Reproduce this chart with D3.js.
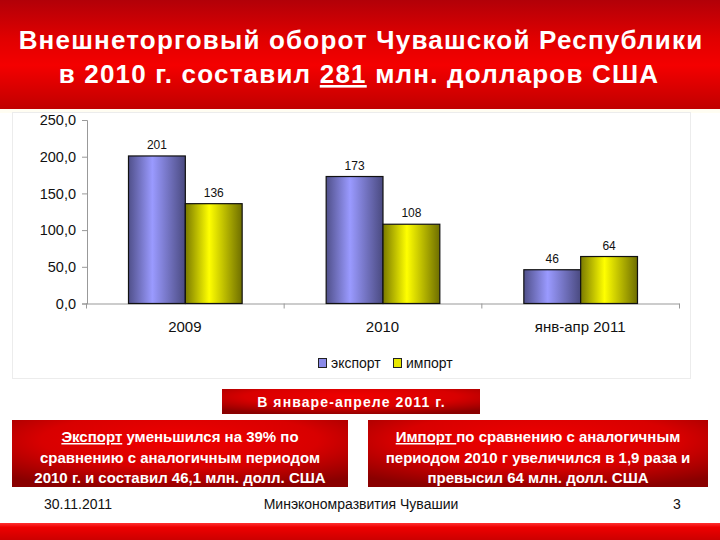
<!DOCTYPE html>
<html><head><meta charset="utf-8">
<script src="https://cdn.jsdelivr.net/npm/d3@7"></script>
<style>body{margin:0;background:#fff}svg{display:block;font-family:"Liberation Sans",Arial,sans-serif}</style>
</head><body><svg id="c" width="720" height="540"></svg>
<script>
const categories = ["2009", "2010", "янв-апр 2011"];
const series = ["экспорт", "импорт"];
const exportValues = [201, 173, 46];
const importValues = [136, 108, 64];
const valueLabels = [["201","136"],["173","108"],["46","64"]];
const yTicks = [0, 50, 100, 150, 200, 250];
const yTickLabels = ["0,0", "50,0", "100,0", "150,0", "200,0", "250,0"];
const titleLines = ["Внешнеторговый оборот Чувашской Республики"];
const boxLeft = [["Экспорт", " уменьшился на 39% по"], ["", "сравнению с аналогичным периодом"], ["", "2010 г. и составил 46,1 млн. долл. США"]];
const boxRight = [["Импорт ", "по сравнению с аналогичным"], ["", "периодом 2010 г увеличился в 1,9 раза и"], ["", "превысил 64 млн. долл. США"]];

const svg = d3.select("#c");
const defs = svg.append("defs");
function lg(id, stops, horiz) {
  const g = defs.append("linearGradient").attr("id", id).attr("x1",0).attr("y1",0)
    .attr("x2", horiz?1:0).attr("y2", horiz?0:1);
  stops.forEach(s => g.append("stop").attr("offset", s[0]).attr("stop-color", s[1]));
}
lg("banner", [[0,"#b20008"],[0.35,"#e00000"],[0.6,"#f40000"],[1,"#c00000"]], false);
lg("gExp", [[0,"#50508a"],[0.42,"#9a9aff"],[1,"#4a4a80"]], true);
lg("gImp", [[0,"#7a7a00"],[0.42,"#ffff00"],[1,"#6e6e00"]], true);
lg("footbar", [[0,"#ff3030"],[0.25,"#ee0000"],[1,"#cc0000"]], false);
const rg = defs.append("radialGradient").attr("id","box").attr("cx","50%").attr("cy","30%").attr("r","75%");
rg.append("stop").attr("offset",0).attr("stop-color","#f00000");
rg.append("stop").attr("offset",0.55).attr("stop-color","#d80000");
rg.append("stop").attr("offset",1).attr("stop-color","#8a0000");

// banner
svg.append("rect").attr("x",0).attr("y",0).attr("width",720).attr("height",109).attr("fill","url(#banner)");
svg.append("rect").attr("x",0).attr("y",109).attr("width",720).attr("height",4).attr("fill","#fffdf2");
const title = svg.append("g").attr("fill","#fff").attr("font-weight","bold").attr("font-size",26)
  .attr("letter-spacing",1.2).attr("text-anchor","middle");
title.append("text").attr("x",361).attr("y",49).text(titleLines[0]);
const t2 = title.append("text").attr("x",359).attr("y",83);
t2.append("tspan").text("в 2010 г. составил ");
t2.append("tspan").attr("text-decoration","underline").text("281");
t2.append("tspan").text(" млн. долларов США");

// chart panel
svg.append("rect").attr("x",12.5).attr("y",112.5).attr("width",678).attr("height",266).attr("fill","#fff").attr("stroke","#ececec");

const x0 = d3.scaleBand().domain(categories).range([86, 679]).padding(0);
const x1 = d3.scaleBand().domain(series).range([x0.bandwidth()*0.215, x0.bandwidth()*0.79]).padding(0);
const y = d3.scaleLinear().domain([0, 250]).range([303.5, 120]);

const yAxis = d3.axisLeft(y).tickValues(yTicks).tickFormat((d,i)=>yTickLabels[i]).tickSize(5).tickPadding(6);
const ya = svg.append("g").attr("transform","translate(87,0)").call(yAxis);
ya.select(".domain").attr("stroke","#999");
ya.selectAll(".tick line").attr("stroke","#999");
ya.selectAll("text").attr("font-size",14.5).attr("fill","#111").attr("font-family","Liberation Sans, Arial");

const xAxis = d3.axisBottom(x0).tickSize(0).tickPadding(18);
const xa = svg.append("g").attr("transform","translate(0,303.5)").call(xAxis);
xa.select(".domain").attr("stroke","#999");
xa.selectAll("text").attr("font-size",15).attr("fill","#111").attr("font-family","Liberation Sans, Arial");
// category boundary ticks
const bounds = categories.map(c => x0(c)).concat([x0(categories[2]) + x0.bandwidth()]);
xa.selectAll(".bt").data(bounds).enter().append("line").attr("class","bt")
  .attr("x1",d=>d+0.5).attr("x2",d=>d+0.5).attr("y1",0).attr("y2",5).attr("stroke","#999");

const data = categories.map((c,i)=>({c, vals:[exportValues[i], importValues[i]]}));
const grp = svg.append("g").selectAll("g").data(data).enter().append("g")
  .attr("transform", d => `translate(${x0(d.c)},0)`);
grp.selectAll("rect").data(d => d.vals.map((v,j)=>({s:series[j], v, j}))).enter().append("rect")
  .attr("x", d => x1(d.s)).attr("y", d => y(d.v)).attr("width", x1.bandwidth()).attr("height", d => y(0)-y(d.v))
  .attr("fill", d => d.j===0 ? "url(#gExp)" : "url(#gImp)").attr("stroke","#111").attr("stroke-width",1.2);
grp.selectAll("text").data((d,i) => d.vals.map((v,j)=>({s:series[j], v, lab: valueLabels[i][j]}))).enter().append("text")
  .attr("x", d => x1(d.s) + x1.bandwidth()/2).attr("y", d => y(d.v) - 7)
  .attr("text-anchor","middle").attr("font-size",12).attr("fill","#111").text(d => d.lab);

// legend
const legend = svg.append("g").attr("font-size",14).attr("fill","#111");
const legX = [318, 393];
series.forEach((s,i) => {
  legend.append("rect").attr("x",legX[i]+0.5).attr("y",358.5).attr("width",8).attr("height",9)
    .attr("fill", i===0?"#8a8ae8":"#e8e800").attr("stroke","#222");
  legend.append("text").attr("x",legX[i]+13).attr("y",368).text(s);
});

// sub header box
svg.append("rect").attr("x",222).attr("y",389).attr("width",258).attr("height",25).attr("fill","url(#box)");
svg.append("text").attr("x",351.5).attr("y",407).attr("text-anchor","middle").attr("fill","#fff")
  .attr("font-weight","bold").attr("font-size",14).attr("letter-spacing",1.1).text("В январе-апреле 2011 г.");

function box(x, w, lines) {
  svg.append("rect").attr("x",x).attr("y",420).attr("width",w).attr("height",67).attr("fill","url(#box)");
  lines.forEach((ln,i) => {
    const t = svg.append("text").attr("x", x + w/2).attr("y", 442 + i*20.5).attr("text-anchor","middle")
      .attr("fill","#fff").attr("font-weight","bold").attr("font-size",15);
    if (ln[0]) t.append("tspan").attr("text-decoration","underline").style("white-space","pre").text(ln[0]);
    t.append("tspan").style("white-space","pre").text(ln[1]);
  });
}
box(12, 336, boxLeft);
box(368, 340, boxRight);

// footer
const foot = svg.append("g").attr("font-size",14).attr("fill","#111");
foot.append("text").attr("x",44).attr("y",509).text("30.11.2011");
foot.append("text").attr("x",361).attr("y",509).attr("text-anchor","middle").text("Минэкономразвития Чувашии");
foot.append("text").attr("x",673).attr("y",509).text("3");
svg.append("rect").attr("x",0).attr("y",523).attr("width",720).attr("height",17).attr("fill","url(#footbar)");
</script></body></html>
